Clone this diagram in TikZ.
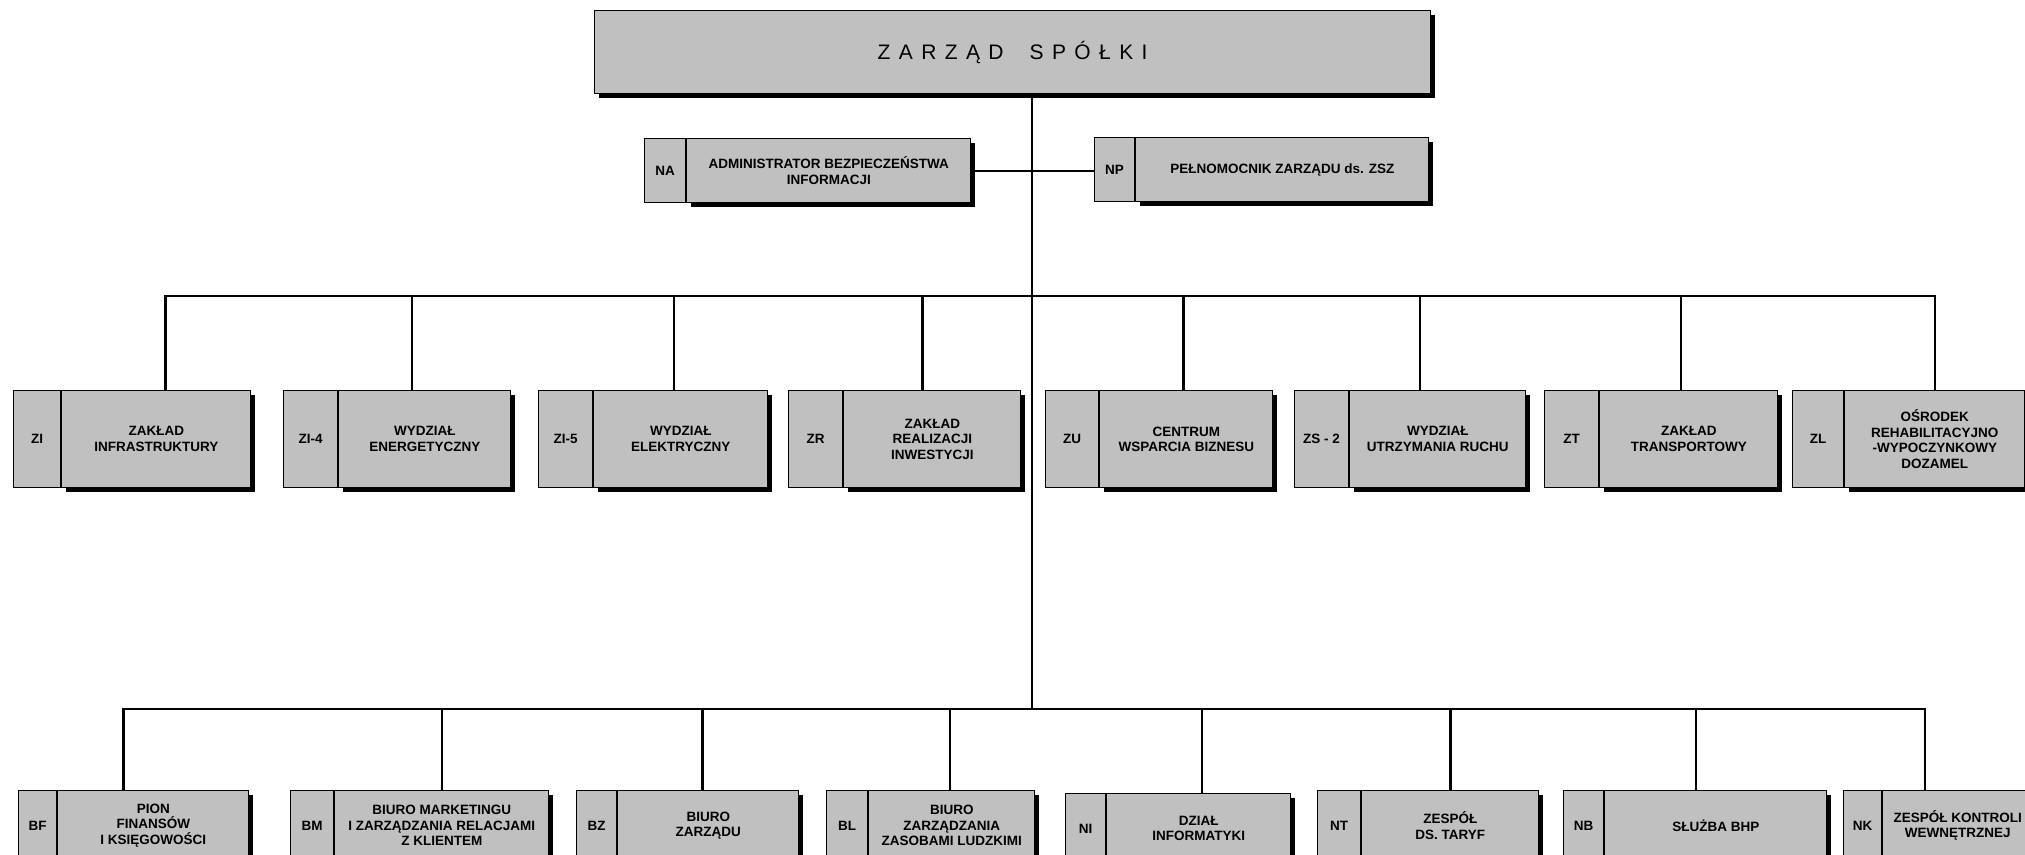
\documentclass[tikz,border=0pt]{standalone}
\usepackage{fontspec}
\setmainfont{Liberation Sans}
\usetikzlibrary{shadows}
\definecolor{boxgray}{RGB}{192,192,192}

\begin{document}
\begin{tikzpicture}[
  x=1pt, y=-1pt,
  box/.style={
    draw,
    line width=1.2pt,
    fill=boxgray,
    align=center,
    inner sep=0pt,
    anchor=north west,
    font=\bfseries\fontsize{13.5}{15.5}\selectfont
  },
  code/.style={box},
  unit/.style={
    box,
    drop shadow={shadow xshift=4pt, shadow yshift=-4pt, fill=black, opacity=1}
  },
  mid/.style={minimum height=97pt},
  low/.style={minimum height=70pt},
  wire/.style={line width=2.6pt},
  link/.style={line width=1.8pt}
]

\useasboundingbox (0,0) rectangle (2025,854);
\clip (0,0) rectangle (2025,854);

% -------------------------------------------------
% Row y-positions
% -------------------------------------------------
\def\yM{390}
\def\yB{790}

% -------------------------------------------------
% ZARZAD
% -------------------------------------------------
\node[unit, minimum width=836pt, minimum height=83pt,
  font=\fontsize{21}{24}\selectfont\addfontfeatures{LetterSpace=40}]
  (zarzad) at (594,10) {ZARZĄD\hspace{26pt}SPÓŁKI};

% -------------------------------------------------
% NA / NP
% -------------------------------------------------
\node[code, minimum width=41pt, minimum height=64pt] (nac) at (644,138) {NA};
\node[unit, minimum width=284pt, minimum height=64pt] (na) at (nac.north east) {ADMINISTRATOR BEZPIECZEŃSTWA\\INFORMACJI};

\node[code, minimum width=40pt, minimum height=64pt] (npc) at (1094,137) {NP};
\node[unit, minimum width=293pt, minimum height=64pt] (np) at (npc.north east) {PEŁNOMOCNIK ZARZĄDU ds. ZSZ};

% -------------------------------------------------
% Middle row
% -------------------------------------------------
\node[code, mid, minimum width=47pt] (zic) at (13,\yM) {ZI};
\node[unit, mid, minimum width=189pt] (zi) at (zic.north east) {ZAKŁAD\\INFRASTRUKTURY};

\node[code, mid, minimum width=54pt] (zi4c) at (283,\yM) {ZI-4};
\node[unit, mid, minimum width=172pt] (zi4) at (zi4c.north east) {WYDZIAŁ\\ENERGETYCZNY};

\node[code, mid, minimum width=54pt] (zi5c) at (538,\yM) {ZI-5};
\node[unit, mid, minimum width=174pt] (zi5) at (zi5c.north east) {WYDZIAŁ\\ELEKTRYCZNY};

\node[code, mid, minimum width=54pt] (zrc) at (788,\yM) {ZR};
\node[unit, mid, minimum width=177pt] (zr) at (zrc.north east) {ZAKŁAD\\REALIZACJI\\INWESTYCJI};

\node[code, mid, minimum width=53pt] (zuc) at (1045,\yM) {ZU};
\node[unit, mid, minimum width=173pt] (zu) at (zuc.north east) {CENTRUM\\WSPARCIA BIZNESU};

\node[code, mid, minimum width=54pt] (zs2c) at (1294,\yM) {ZS - 2};
\node[unit, mid, minimum width=176pt] (zs2) at (zs2c.north east) {WYDZIAŁ\\UTRZYMANIA RUCHU};

\node[code, mid, minimum width=54pt] (ztc) at (1544,\yM) {ZT};
\node[unit, mid, minimum width=178pt] (zt) at (ztc.north east) {ZAKŁAD\\TRANSPORTOWY};

\node[code, mid, minimum width=51pt] (zlc) at (1792,\yM) {ZL};
\node[unit, mid, minimum width=180pt] (zl) at (zlc.north east) {OŚRODEK\\REHABILITACYJNO\\-WYPOCZYNKOWY\\DOZAMEL};

% -------------------------------------------------
% Bottom row
% -------------------------------------------------
\node[code, low, minimum width=38pt] (bfc) at (18,\yB) {BF};
\node[unit, low, minimum width=191pt] (bf) at (bfc.north east) {PION\\FINANSÓW\\I KSIĘGOWOŚCI};

\node[code, low, minimum width=43pt] (bmc) at (290,\yB) {BM};
\node[unit, low, minimum width=214pt] (bm) at (bmc.north east) {BIURO MARKETINGU\\I ZARZĄDZANIA RELACJAMI\\Z KLIENTEM};

\node[code, low, minimum width=40pt] (bzc) at (576,\yB) {BZ};
\node[unit, low, minimum width=181pt] (bz) at (bzc.north east) {BIURO\\ZARZĄDU};

\node[code, low, minimum width=41pt] (blc) at (826,\yB) {BL};
\node[unit, low, minimum width=166pt] (bl) at (blc.north east) {BIURO\\ZARZĄDZANIA\\ZASOBAMI LUDZKIMI};

\node[code, low, minimum width=40pt] (nic) at (1065,793) {NI};
\node[unit, low, minimum width=184pt] (ni) at (nic.north east) {DZIAŁ\\INFORMATYKI};

\node[code, low, minimum width=43pt] (ntc) at (1317,\yB) {NT};
\node[unit, low, minimum width=177pt] (nt) at (ntc.north east) {ZESPÓŁ\\DS. TARYF};

\node[code, low, minimum width=40pt] (nbc) at (1563,\yB) {NB};
\node[unit, low, minimum width=222pt] (nb) at (nbc.north east) {SŁUŻBA BHP};

\node[code, low, minimum width=38pt] (nkc) at (1843,\yB) {NK};
\node[unit, low, minimum width=150pt] (nk) at (nkc.north east) {ZESPÓŁ KONTROLI\\WEWNĘTRZNEJ};

% -------------------------------------------------
% Bus lines
% -------------------------------------------------
\coordinate (busM) at (1032,296);
\coordinate (busB) at (1032,709);

% ZARZAD -> both buses
\draw[wire] (zarzad.south -| busB) -- (busB);

% NA -- NP
\draw[link] (na.east) -- (na.east -| npc.west);

% middle bus and drops
\draw[wire] ([xshift=9pt]zi.north) -- ([xshift=9pt]zi.north |- busM) -- (zl.north |- busM) -- (zl.north);
\draw[wire] ([xshift=-13pt]zi4.north) -- ([xshift=-13pt]zi4.north |- busM);
\draw[wire] ([xshift=-7pt]zi5.north) -- ([xshift=-7pt]zi5.north |- busM);
\draw[wire] ([xshift=-10pt]zr.north) -- ([xshift=-10pt]zr.north |- busM);
\draw[wire] ([xshift=-3pt]zu.north) -- ([xshift=-3pt]zu.north |- busM);
\draw[wire] ([xshift=-18pt]zs2.north) -- ([xshift=-18pt]zs2.north |- busM);
\draw[wire] ([xshift=-8pt]zt.north) -- ([xshift=-8pt]zt.north |- busM);

% bottom bus and drops
\draw[wire] ([xshift=-30pt]bf.north) -- ([xshift=-30pt]bf.north |- busB) -- ([xshift=-33pt]nk.north |- busB) -- ([xshift=-33pt]nk.north);
\draw[wire] (bm.north) -- (bm.north |- busB);
\draw[wire] ([xshift=-6pt]bz.north) -- ([xshift=-6pt]bz.north |- busB);
\draw[wire] ([xshift=-2pt]bl.north) -- ([xshift=-2pt]bl.north |- busB);
\draw[wire] ([xshift=3pt]ni.north) -- ([xshift=3pt]ni.north |- busB);
\draw[wire] (nt.north) -- (nt.north |- busB);
\draw[wire] ([xshift=-20pt]nb.north) -- ([xshift=-20pt]nb.north |- busB);

\end{tikzpicture}
\end{document}
